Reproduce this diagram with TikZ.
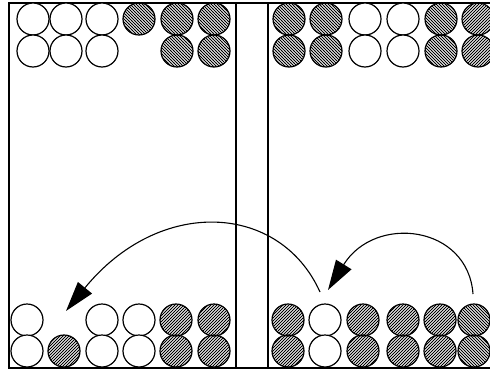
\documentclass[tikz,border=0pt]{standalone}
\usetikzlibrary{patterns,arrows.meta}
\pgfdeclarepatternformonly{hatchne}{\pgfqpoint{-1pt}{-1pt}}{\pgfqpoint{4pt}{4pt}}{\pgfqpoint{3pt}{3pt}}{\pgfsetlinewidth{0.85pt}\pgfpathmoveto{\pgfqpoint{0pt}{0pt}}\pgfpathlineto{\pgfqpoint{3.1pt}{3.1pt}}\pgfusepath{stroke}}
\pgfdeclarepatternformonly{hatchnw}{\pgfqpoint{-1pt}{-1pt}}{\pgfqpoint{4pt}{4pt}}{\pgfqpoint{3pt}{3pt}}{\pgfsetlinewidth{0.85pt}\pgfpathmoveto{\pgfqpoint{0pt}{3pt}}\pgfpathlineto{\pgfqpoint{3.1pt}{-0.1pt}}\pgfusepath{stroke}}
\begin{document}
\begin{tikzpicture}[x=1pt,y=-1pt,
  checker/.style={circle,draw=black,line width=1.2pt,minimum size=32pt,inner sep=0pt},
  wc/.style={checker,fill=white},
  bne/.style={checker,pattern=hatchne},
  bnw/.style={checker,pattern=hatchnw},
  frame/.style={line width=1.2pt,line cap=rect},
  move/.style={line width=1.1pt,-{Triangle[length=30pt,width=18pt]}}]
\useasboundingbox[fill=white] (0,0) rectangle (490,372);
% frame
\coordinate (tl) at (9,3);
\coordinate (tr) at (492,3);
\coordinate (bl) at (9,368);
\coordinate (brr) at (492,368);
\coordinate (bar1t) at (236,3);
\coordinate (bar1b) at (236,368);
\coordinate (bar2t) at (268,3);
\coordinate (bar2b) at (268,368);
\draw[frame] (tr) -- (tl) -- (bl) -- (brr);
\draw[frame] (bar1t) -- (bar1b);
\draw[frame] (bar2t) -- (bar2b);
% top left
\node[wc] (ta1) at (33,19) {};  \node[wc] (ta2) at (33,51) {};
\node[wc] (tb1) at (66,19) {};  \node[wc] (tb2) at (66,51) {};
\node[wc] (tc1) at (102,19) {}; \node[wc] (tc2) at (102,51) {};
\node[bnw] (td1) at (139,19) {};
\node[bnw] (te1) at (177,19) {}; \node[bnw] (te2) at (177,51) {};
\node[bnw] (tf1) at (214,19) {}; \node[bnw] (tf2) at (214,51) {};
% top right
\node[bnw] (tg1) at (289,19) {}; \node[bnw] (tg2) at (289,51) {};
\node[bnw] (th1) at (326,19) {}; \node[bnw] (th2) at (326,51) {};
\node[wc] (ti1) at (365,19) {};  \node[wc] (ti2) at (365,51) {};
\node[wc] (tj1) at (403,19) {};  \node[wc] (tj2) at (403,51) {};
\node[bnw] (tk1) at (441,19) {}; \node[bnw] (tk2) at (441,51) {};
\node[bne] (tl1) at (478,19) {}; \node[bne] (tl2) at (478,51) {};
% bottom left
\node[wc] (ba1) at (27,320) {};  \node[wc] (ba2) at (27,351) {};
\node[bne] (bb2) at (64,351) {};
\node[wc] (bc1) at (102,320) {}; \node[wc] (bc2) at (102,351) {};
\node[wc] (bd1) at (139,320) {}; \node[wc] (bd2) at (139,351) {};
\node[bne] (be1) at (176,320) {}; \node[bne] (be2) at (176,351) {};
\node[bne] (bf1) at (214,320) {}; \node[bne] (bf2) at (214,351) {};
% bottom right
\node[bne] (bg1) at (288,320) {}; \node[bne] (bg2) at (288,351) {};
\node[wc] (bh1) at (325,320) {};  \node[wc] (bh2) at (325,351) {};
\node[bne] (bi1) at (363,320) {}; \node[bne] (bi2) at (363,351) {};
\node[bne] (bj1) at (403,320) {}; \node[bne] (bj2) at (403,351) {};
\node[bne] (bk1) at (440,320) {}; \node[bne] (bk2) at (440,351) {};
\node[bnw] (bl1) at (474,320) {}; \node[bnw] (bl2) at (474,351) {};
% arrows
\coordinate (m1s) at (320,292);
\coordinate (m1e) at (66,311);
\coordinate (m2s) at (473,294);
\coordinate (m2e) at (328,290);
\draw[move] (m1s) .. controls (280,203) and (160,196) .. (m1e);
\draw[move] (m2s) .. controls (468,225) and (375,214) .. (m2e);
\end{tikzpicture}
\end{document}
